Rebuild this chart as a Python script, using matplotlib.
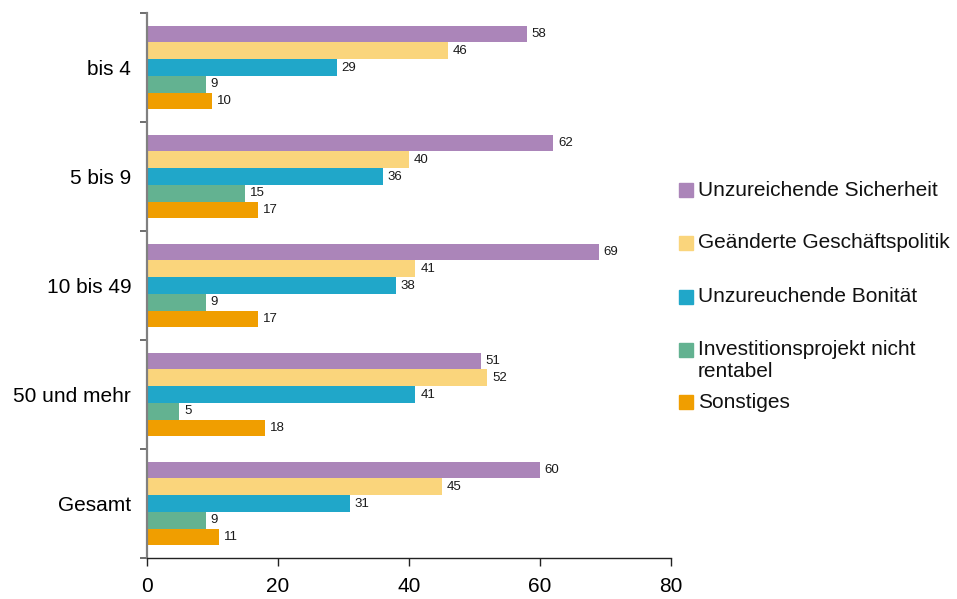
import matplotlib
matplotlib.use("Agg")
import matplotlib.pyplot as plt
from matplotlib.patches import Rectangle
import numpy as np

plt.rcParams['font.family'] = ['Liberation Sans', 'DejaVu Sans']

categories = ["bis 4", "5 bis 9", "10 bis 49", "50 und mehr", "Gesamt"]
series_names = ["Unzureichende Sicherheit", "Geänderte Geschäftspolitik",
                "Unzureuchende Bonität", "Investitionsprojekt nicht\nrentabel",
                "Sonstiges"]
unzureichende_sicherheit = [58, 62, 69, 51, 60]
geaenderte_geschaeftspolitik = [46, 40, 41, 52, 45]
unzureichende_bonitaet = [29, 36, 38, 41, 31]
investitionsprojekt = [9, 15, 9, 5, 9]
sonstiges = [10, 17, 17, 18, 11]
x_ticks = [0, 20, 40, 60, 80]

series = [unzureichende_sicherheit, geaenderte_geschaeftspolitik,
          unzureichende_bonitaet, investitionsprojekt, sonstiges]
colors = ["#AB85B9", "#FAD57C", "#20A7C9", "#63B291", "#F09E00"]

fig = plt.figure(figsize=(9.57, 5.99), dpi=100)
ax = fig.add_axes([0.1531, 0.0684, 0.5481, 0.9099])

n_cat = len(categories)
n_ser = len(series)
group_h = 0.77
bar_h = group_h / n_ser
centers = np.arange(n_cat)  # 0 = top category (axis inverted)

for i, (vals, col) in enumerate(zip(series, colors)):
    y = centers - group_h / 2 + bar_h * (i + 0.5)
    bars = ax.barh(y, vals, height=bar_h, color=col, edgecolor='none', zorder=2)
    for b, v in zip(bars, vals):
        ax.text(b.get_width() + 0.75, b.get_y() + b.get_height() / 2, f"{v}",
                va='center', ha='left', fontsize=9.5, color='#1a1a1a')

ax.set_xlim(0, 80)
ax.set_ylim(n_cat - 0.5, -0.5)
ax.set_xticks(x_ticks)
ax.set_xticklabels([str(t) for t in x_ticks], fontsize=15)
ax.tick_params(axis='x', direction='out', length=6, width=1, color='#222222', pad=8)

ax.set_yticks(np.arange(n_cat + 1) - 0.5)
ax.set_yticklabels([])
ax.tick_params(axis='y', which='major', direction='out', length=5, width=1.2, color='#555555')
ax.set_yticks(centers, minor=True)
ax.set_yticklabels(categories, minor=True, fontsize=15)
ax.tick_params(axis='y', which='minor', length=0, pad=11)

for s in ['top', 'right']:
    ax.spines[s].set_visible(False)
ax.spines['left'].set_color('#808080')
ax.spines['left'].set_linewidth(1.6)
ax.spines['bottom'].set_color('#222222')
ax.spines['bottom'].set_linewidth(1.0)

# legend drawn as squares with labels on the right side
legend_x = 679 / 957
legend_ys = [190, 243, 297, 350, 402]
sq = 14
for name, col, ypx in zip(series_names, colors, legend_ys):
    yf = 1 - (ypx + sq / 2) / 599
    fig.patches.append(Rectangle((legend_x, yf), sq / 957, sq / 599,
                                 transform=fig.transFigure, color=col,
                                 edgecolor='none'))
    if '\n' in name:
        fig.text(legend_x + 19 / 957, 1 - (ypx - 10) / 599, name, fontsize=15,
                 va='top', ha='left', color='#111111', linespacing=1.2)
    else:
        fig.text(legend_x + 19 / 957, 1 - ypx / 599, name, fontsize=15,
                 va='center', ha='left', color='#111111')

fig.savefig("out.png", dpi=100)
